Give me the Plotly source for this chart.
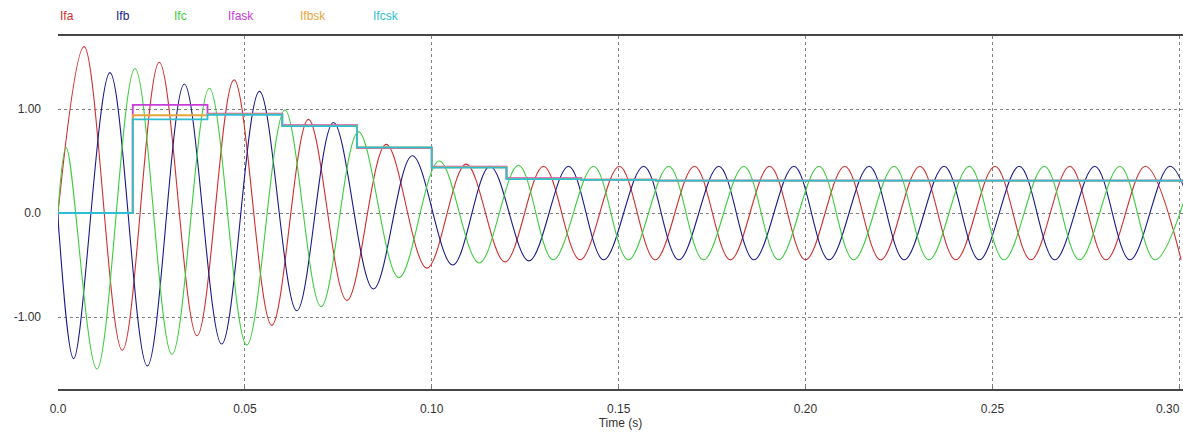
import plotly.graph_objects as go

# ---- data (extrema of each phase current) ----
ifa_t = [0.0000, 0.0070, 0.0172, 0.0271, 0.0372, 0.0471, 0.0572, 0.0670, 0.0773, 0.0878,
         0.0987, 0.1092, 0.1196, 0.1299, 0.1397, 0.1502, 0.1598, 0.1703, 0.1799, 0.1904,
         0.2000, 0.2105, 0.2201, 0.2306, 0.2402, 0.2507, 0.2603, 0.2707, 0.2804, 0.2909, 0.3005]
ifa_v = [0.00, 1.60, -1.32, 1.45, -1.18, 1.28, -1.08, 0.90, -0.84, 0.66,
         -0.53, 0.47, -0.47, 0.45, -0.45, 0.45, -0.45, 0.45, -0.45, 0.45,
         -0.45, 0.45, -0.45, 0.45, -0.45, 0.45, -0.45, 0.45, -0.45, 0.45, -0.45]

ifb_t = [0.0000, 0.0003, 0.0042, 0.0139, 0.0239, 0.0338, 0.0438, 0.0539, 0.0639, 0.0737,
         0.0844, 0.0948, 0.1056, 0.1156, 0.1260, 0.1366, 0.1460, 0.1567, 0.1661, 0.1768,
         0.1862, 0.1969, 0.2063, 0.2170, 0.2264, 0.2371, 0.2465, 0.2572, 0.2667, 0.2774,
         0.2868, 0.2975, 0.3068]
ifb_v = [0.00, -0.20, -1.40, 1.35, -1.47, 1.24, -1.26, 1.17, -0.94, 0.87,
         -0.73, 0.55, -0.50, 0.45, -0.46, 0.45, -0.45, 0.45, -0.45, 0.45,
         -0.45, 0.45, -0.45, 0.45, -0.45, 0.45, -0.45, 0.45, -0.45, 0.45,
         -0.45, 0.45, -0.45]

ifc_t = [0.0000, 0.0022, 0.0104, 0.0206, 0.0305, 0.0405, 0.0505, 0.0607, 0.0704, 0.0804,
         0.0912, 0.1020, 0.1127, 0.1232, 0.1325, 0.1433, 0.1526, 0.1634, 0.1727, 0.1835,
         0.1928, 0.2036, 0.2129, 0.2237, 0.2330, 0.2438, 0.2531, 0.2639, 0.2733, 0.2841,
         0.2935, 0.3041]
ifc_v = [0.00, 0.63, -1.50, 1.39, -1.36, 1.20, -1.27, 0.99, -0.90, 0.78,
         -0.62, 0.50, -0.48, 0.46, -0.45, 0.45, -0.45, 0.45, -0.45, 0.45,
         -0.45, 0.45, -0.45, 0.45, -0.45, 0.45, -0.45, 0.45, -0.45, 0.45,
         -0.45, 0.45]

# sample-and-hold magnitudes (one value per cycle)
sk_t = [0.00, 0.02, 0.04, 0.06, 0.08, 0.10, 0.12, 0.14, 0.16, 0.18,
        0.20, 0.22, 0.24, 0.26, 0.28, 0.30, 0.302]
ifask_v = [0.00, 1.04, 0.955, 0.845, 0.625, 0.445, 0.335, 0.322, 0.312, 0.312,
           0.312, 0.312, 0.312, 0.312, 0.312, 0.312, 0.312]
ifbsk_v = [0.00, 0.94, 0.950, 0.840, 0.630, 0.440, 0.330, 0.320, 0.312, 0.312,
           0.312, 0.312, 0.312, 0.312, 0.312, 0.312, 0.312]
ifcsk_v = [0.00, 0.90, 0.945, 0.835, 0.632, 0.436, 0.326, 0.318, 0.312, 0.312,
           0.312, 0.312, 0.312, 0.312, 0.312, 0.312, 0.312]

names = ["Ifa", "Ifb", "Ifc", "Ifask", "Ifbsk", "Ifcsk"]
colors = ["rgb(210,45,45)", "rgb(25,25,140)", "rgb(60,205,60)",
          "rgb(200,60,215)", "rgb(232,165,60)", "rgb(45,190,210)"]

x_tickvals = [0.0, 0.05, 0.10, 0.15, 0.20, 0.25, 0.30]
x_ticktext = ["0.0", "0.05", "0.10", "0.15", "0.20", "0.25", ""]
y_tickvals = [-1.0, 0.0, 1.0]
y_ticktext = ["-1.00", "0.0", "1.00"]

fig = go.Figure()
for t, v, n, c in [(ifa_t, ifa_v, names[0], colors[0]),
                   (ifb_t, ifb_v, names[1], colors[1]),
                   (ifc_t, ifc_v, names[2], colors[2])]:
    fig.add_trace(go.Scatter(x=t, y=v, name=n, mode="lines",
                             line=dict(color=c, width=1.1, shape="spline", smoothing=1.0)))
for v, n, c in [(ifask_v, names[3], colors[3]),
                (ifbsk_v, names[4], colors[4]),
                (ifcsk_v, names[5], colors[5])]:
    fig.add_trace(go.Scatter(x=sk_t, y=v, name=n, mode="lines",
                             line=dict(color=c, width=1.8, shape="hv")))

font = dict(family="Liberation Sans, Arial, sans-serif", size=12, color="#333333")

# legend as coloured labels above the plot
legend_x = [0.0, 0.0498, 0.1013, 0.1493, 0.2133, 0.2782]
annotations = []
for n, c, lx in zip(names, colors, legend_x):
    annotations.append(dict(text=n, x=lx, y=1.057, xref="paper", yref="paper",
                            xanchor="left", yanchor="middle", showarrow=False,
                            font=dict(family=font["family"], size=12, color=c)))
# last x tick label sits inside the right edge
annotations.append(dict(text="0.30", x=0.30, y=0, xref="x", yref="paper",
                        xanchor="right", yanchor="top", xshift=3, yshift=-11,
                        showarrow=False, font=font))

fig.update_layout(
    width=1183, height=432,
    margin=dict(l=58, r=0, t=36, b=43),
    paper_bgcolor="white", plot_bgcolor="white",
    showlegend=False, font=font,
    annotations=annotations,
    xaxis=dict(range=[0, 0.3010], tickvals=x_tickvals, ticktext=x_ticktext,
               showgrid=True, gridcolor="rgb(130,130,130)", griddash="3px,3px", gridwidth=1,
               showline=True, linecolor="rgb(70,70,70)", linewidth=1.5, mirror=True,
               ticks="inside", ticklen=3, tickcolor="rgb(120,120,120)",
               zeroline=False, ticklabelstandoff=8,
               title=dict(text="Time (s)", standoff=2, font=font)),
    yaxis=dict(range=[-1.692, 1.702], tickvals=y_tickvals, ticktext=y_ticktext,
               showgrid=True, gridcolor="rgb(130,130,130)", griddash="3px,3px", gridwidth=1,
               showline=False, zeroline=False, ticks="", ticklabelstandoff=16),
)

fig.write_html("out.html")
